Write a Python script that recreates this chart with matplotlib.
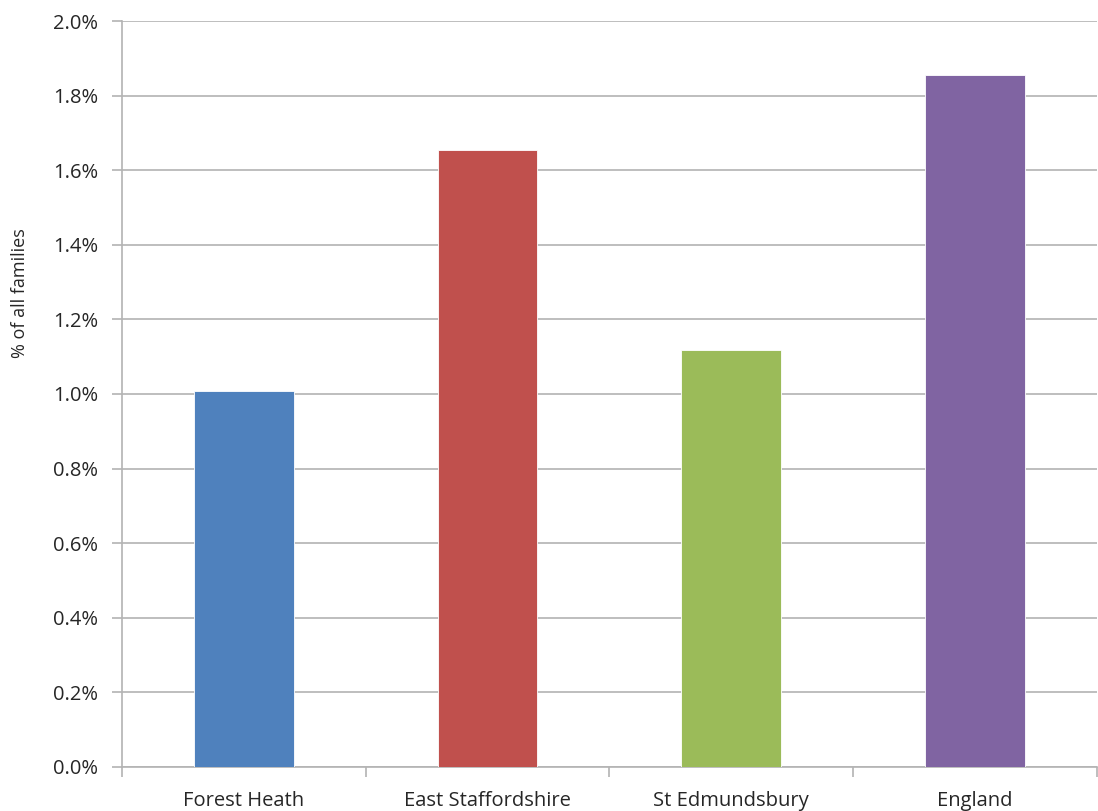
import matplotlib.pyplot as plt
from matplotlib.ticker import FuncFormatter, MultipleLocator

categories = ["Forest Heath", "East Staffordshire", "St Edmundsbury", "England"]
values = [1.007, 1.654, 1.119, 1.856]
colors = ["#4F81BD", "#C0504D", "#9BBB59", "#8064A2"]

plt.rcParams["font.family"] = ["Open Sans", "DejaVu Sans"]

fig = plt.figure(figsize=(10.98, 8.11), dpi=100)
ax = fig.add_axes([0.111, 0.0543, 0.888, 0.9198])

x = list(range(len(categories)))
ax.bar(x, values, width=0.41, color=colors, edgecolor="white", linewidth=0.6, zorder=3)

ax.set_xlim(-0.5, len(categories) - 0.5)
ax.set_ylim(0, 2.0)
ax.yaxis.set_major_locator(MultipleLocator(0.2))
ax.yaxis.set_major_formatter(FuncFormatter(lambda v, p: f"{v:.1f}%"))
ax.grid(axis="y", color="#B3B3B3", linewidth=1.2, zorder=0)

ax.set_xticks(x)
ax.set_xticklabels(categories)
ax.set_xticks([i + 0.5 for i in range(-1, len(categories))], minor=True)
ax.tick_params(axis="x", which="major", length=0, pad=17, labelsize=14.5, labelcolor="#262626")
ax.tick_params(axis="x", which="minor", length=7, color="#B3B3B3", width=1.2)
ax.tick_params(axis="y", length=7, color="#B3B3B3", width=1.2, labelsize=14.5, pad=10,
               labelcolor="#262626")

for side in ["top", "right"]:
    ax.spines[side].set_visible(False)
for side in ["left", "bottom"]:
    ax.spines[side].set_color("#B3B3B3")
    ax.spines[side].set_linewidth(1.2)

ax.set_ylabel("% of all families", fontsize=13, color="#262626", va="center")
ax.yaxis.set_label_coords(-0.105, 0.635)

fig.savefig("out.png")
